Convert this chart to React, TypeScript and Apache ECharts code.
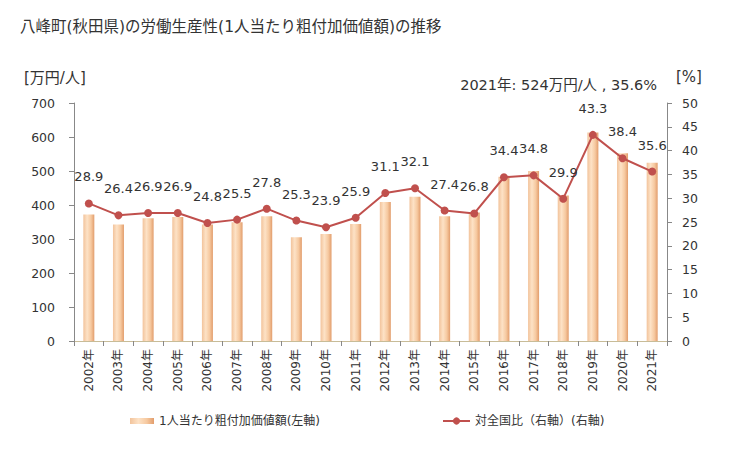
import React, { useEffect, useRef } from "react";
import * as echarts from "echarts";

const years = ["2002年","2003年","2004年","2005年","2006年","2007年","2008年","2009年","2010年","2011年","2012年","2013年","2014年","2015年","2016年","2017年","2018年","2019年","2020年","2021年"];
const valueAdded = [372, 343, 361, 365, 343, 349, 367, 305, 315, 344, 409, 424, 367, 378, 483, 500, 428, 613, 552, 524];
const ratio = [28.9, 26.4, 26.9, 26.9, 24.8, 25.5, 27.8, 25.3, 23.9, 25.9, 31.1, 32.1, 27.4, 26.8, 34.4, 34.8, 29.9, 43.3, 38.4, 35.6];
const leftTicks = { min: 0, max: 700, interval: 100 };
const rightTicks = { min: 0, max: 50, interval: 5 };

const FONT = "'DejaVu Sans', 'Noto Sans CJK JP', sans-serif";
const BAR_NAME = "1人当たり粗付加価値額(左軸)";
const LINE_NAME = "対全国比（右軸）(右軸)";

export default function App() {
  const ref = useRef<HTMLDivElement>(null);
  useEffect(() => {
    if (!ref.current) return;
    const chart = echarts.init(ref.current, null, { renderer: "svg" });
    const barGrad = new echarts.graphic.LinearGradient(0, 0, 1, 0, [
      { offset: 0, color: "#f2c39b" },
      { offset: 0.35, color: "#fde2c6" },
      { offset: 0.7, color: "#f6c9a0" },
      { offset: 1, color: "#e29d6c" },
    ]);
    chart.setOption({
      animation: false,
      textStyle: { fontFamily: FONT },
      title: {
        text: "八峰町(秋田県)の労働生産性(1人当たり粗付加価値額)の推移",
        left: 15,
        top: 14,
        textStyle: { fontSize: 15.5, fontWeight: "normal", color: "#333", fontFamily: FONT },
      },
      graphic: [
        { type: "text", left: 24, top: 70, style: { text: "[万円/人]", fontSize: 15, fill: "#333", fontFamily: FONT } },
        { type: "text", left: 676, top: 69, style: { text: "[%]", fontSize: 15, fill: "#333", fontFamily: FONT } },
        { type: "text", right: 72, top: 78, style: { text: "2021年: 524万円/人 , 35.6%", fontSize: 14.5, fill: "#333", fontFamily: FONT } },
      ],
      grid: { left: 74, right: 62, top: 103, bottom: 109, containLabel: false },
      legend: [
        {
          top: 410,
          left: 125,
          itemWidth: 24,
          itemHeight: 6,
          textStyle: { fontSize: 12, color: "#333", fontFamily: FONT },
          data: [{ name: BAR_NAME, icon: "rect" }],
        },
        {
          top: 410,
          left: 437,
          itemWidth: 27,
          itemHeight: 9,
          textStyle: { fontSize: 12, color: "#333", fontFamily: FONT },
          data: [{ name: LINE_NAME }],
        },
      ],
      xAxis: [
        {
          type: "category",
          data: years,
          axisLine: { lineStyle: { color: "#888" } },
          axisTick: { show: true, length: 5, alignWithLabel: false, lineStyle: { color: "#888" } },
          axisLabel: { rotate: 90, fontSize: 12, color: "#333", margin: 8, fontFamily: FONT },
        },
        {
          type: "category",
          data: years,
          position: "top",
          axisLine: { lineStyle: { color: "#c8bc98" } },
          axisTick: { show: false },
          axisLabel: { show: false },
        },
      ],
      yAxis: [
        {
          type: "value",
          ...leftTicks,
          axisLine: { show: true, lineStyle: { color: "#888" } },
          axisTick: { show: true, length: 5, lineStyle: { color: "#888" } },
          axisLabel: { fontSize: 12.5, color: "#333", margin: 19, fontFamily: FONT },
          splitLine: { show: false },
        },
        {
          type: "value",
          ...rightTicks,
          position: "right",
          axisLine: { show: true, lineStyle: { color: "#888" } },
          axisTick: { show: true, length: 5, lineStyle: { color: "#888" } },
          axisLabel: { fontSize: 12.5, color: "#333", margin: 15, fontFamily: FONT },
          splitLine: { show: false },
        },
      ],
      series: [
        {
          name: BAR_NAME,
          type: "bar",
          data: valueAdded,
          barWidth: 11,
          itemStyle: { color: barGrad },
        },
        {
          name: LINE_NAME,
          type: "line",
          yAxisIndex: 1,
          data: ratio,
          symbol: "circle",
          symbolSize: 8,
          itemStyle: { color: "#c0504d" },
          lineStyle: { color: "#c0504d", width: 2 },
          label: {
            show: true,
            position: "top",
            distance: 16,
            fontSize: 13,
            color: "#333",
            fontFamily: FONT,
            formatter: (p: any) => p.value.toFixed(1),
          },
        },
      ],
    });
    return () => chart.dispose();
  }, []);
  return <div ref={ref} style={{ width: 729, height: 450, position: "absolute", left: 0, top: 0 }} />;
}
